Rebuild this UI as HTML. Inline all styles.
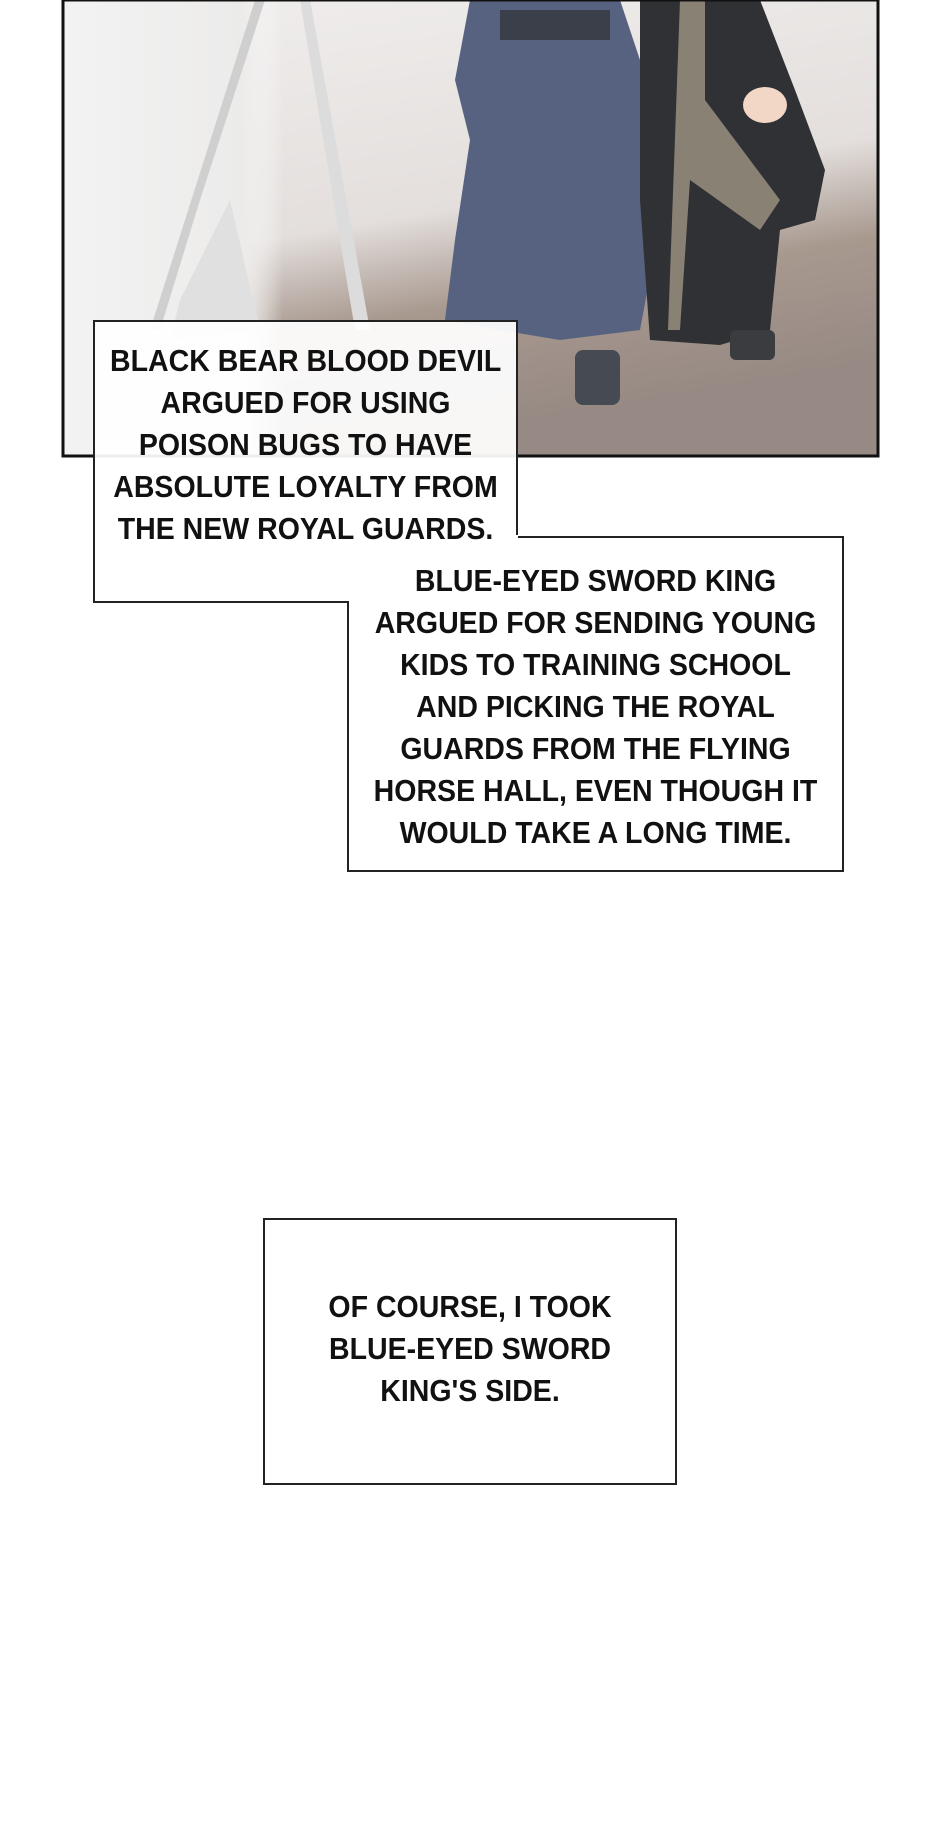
<!DOCTYPE html>
<html><head><meta charset="utf-8"><style>
body{margin:0;width:940px;height:1839px;background:#fff;position:relative;overflow:hidden;font-family:"Liberation Sans Narrow","Liberation Sans",sans-serif;}
.box{position:absolute;background:#fff;border:2px solid #222;box-sizing:border-box;}
.t{position:absolute;text-align:center;font-size:31px;line-height:42px;color:#111;font-weight:bold;white-space:nowrap;transform:scaleX(0.92);}
</style></head><body>
<svg style="position:absolute;left:0;top:0" width="940" height="480">
<defs><linearGradient id="bg" x1="0" y1="0" x2="0.3" y2="1"><stop offset="0" stop-color="#f0eeed"/><stop offset="0.55" stop-color="#e4dfdd"/><stop offset="0.75" stop-color="#a8998f"/><stop offset="1" stop-color="#978a84"/></linearGradient>
<linearGradient id="bg2" x1="0" y1="0" x2="1" y2="0"><stop offset="0" stop-color="#f3f3f3"/><stop offset="0.45" stop-color="#ecebea"/><stop offset="0.55" stop-color="#ffffff" stop-opacity="0"/></linearGradient></defs>
<rect x="63" y="0" width="815" height="456" fill="url(#bg)"/>
<rect x="63" y="0" width="400" height="456" fill="url(#bg2)"/>
<polygon points="255,0 265,0 200,200 160,330 150,330" fill="#cfcfcf"/>
<polygon points="300,0 310,0 370,330 355,330" fill="#dcdcdc"/>
<polygon points="180,300 230,200 260,330 170,340" fill="#e0e0e0"/>
<path d="M470 0 L620 0 L640 60 L650 130 L655 250 L640 330 L560 340 L500 330 L445 320 L455 240 L470 140 L455 80 Z" fill="#56627f"/>
<rect x="500" y="10" width="110" height="30" fill="#3b3f4a"/>
<rect x="575" y="350" width="45" height="55" fill="#464a52" rx="8"/>
<path d="M640 0 L760 0 L795 90 L825 170 L815 220 L780 230 L770 330 L720 345 L650 340 L640 200 Z" fill="#2f3134"/>
<path d="M680 0 L705 0 L705 100 L780 200 L760 230 L690 180 L680 330 L668 330 Z" fill="#8a8175"/>
<ellipse cx="765" cy="105" rx="22" ry="18" fill="#f2d6c6"/>
<rect x="730" y="330" width="45" height="30" fill="#3a3c40" rx="6"/>
<rect x="63" y="0" width="815" height="456" fill="none" stroke="#111" stroke-width="3"/>
</svg>
<div class="box" style="left:93px;top:320px;width:425px;height:283px;background:rgba(255,255,255,0.93)"></div>
<div class="box" style="left:347px;top:536px;width:497px;height:336px"></div>
<div style="position:absolute;left:347px;top:535px;width:171px;height:66px;background:#fff"></div>
<div class="box" style="left:263px;top:1218px;width:414px;height:267px"></div>
<div class="t" style="left:93px;width:425px;top:340px">BLACK BEAR BLOOD DEVIL<br>ARGUED FOR USING<br>POISON BUGS TO HAVE<br>ABSOLUTE LOYALTY FROM<br>THE NEW ROYAL GUARDS.</div>
<div class="t" style="left:347px;width:497px;top:560px">BLUE-EYED SWORD KING<br>ARGUED FOR SENDING YOUNG<br>KIDS TO TRAINING SCHOOL<br>AND PICKING THE ROYAL<br>GUARDS FROM THE FLYING<br>HORSE HALL, EVEN THOUGH IT<br>WOULD TAKE A LONG TIME.</div>
<div class="t" style="left:263px;width:414px;top:1286px">OF COURSE, I TOOK<br>BLUE-EYED SWORD<br>KING'S SIDE.</div>
</body></html>
